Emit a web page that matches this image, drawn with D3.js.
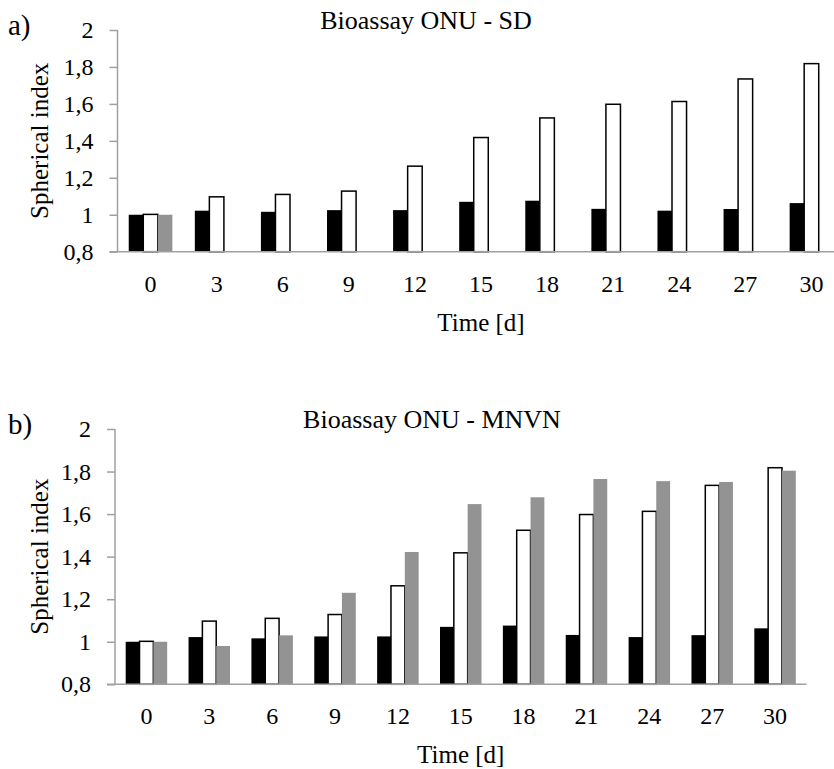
<!DOCTYPE html>
<meta charset="utf-8">
<script src="https://d3js.org/d3.v7.min.js"></script>
<style>
  body { margin: 0; background: #fff; }
  svg text { font-family: "Liberation Serif", serif !important; fill: #000; }
  .axis path, .axis line { stroke: #a0a0a0; stroke-width: 1.5px; }
  .axis text { font-size: 24px; }
</style>
<body>
<div id="my_dataviz"></div>
<script>
// data
var days = ["0", "3", "6", "9", "12", "15", "18", "21", "24", "27", "30"];
var blackVals = [1.0, 1.022, 1.016, 1.025, 1.025, 1.07, 1.076, 1.032, 1.022, 1.031, 1.063];
var whiteVals = [1.002, 1.097, 1.11, 1.128, 1.263, 1.418, 1.524, 1.598, 1.613, 1.735, 1.818];
var grayA = [1.0, 0.8, 0.8, 0.8, 0.8, 0.8, 0.8, 0.8, 0.8, 0.8, 0.8];
var grayB = [1.0, 0.98, 1.03, 1.23, 1.422, 1.647, 1.679, 1.765, 1.755, 1.751, 1.804];
var yTicks = [0.8, 1, 1.2, 1.4, 1.6, 1.8, 2];

var comma = d3.formatLocale({decimal: ",", thousands: ".", grouping: [3], currency: ["", ""]}).format(".1~f");

var svg = d3.select("#my_dataviz").append("svg")
  .attr("width", 834)
  .attr("height", 769);

function panel(p) {
  var g = svg.append("g");
  var x = d3.scaleBand().domain(days).range([p.left, p.right]).paddingInner(0.34).paddingOuter(0.17);
  var x1 = d3.scaleBand().domain([0, 1, 2]).range([0, x.bandwidth()]);
  var y = d3.scaleLinear().domain([0.8, 2]).range([p.bottom, p.top]);

  // bars
  var series = [
    {vals: blackVals, fill: "#000", stroke: "none"},
    {vals: whiteVals, fill: "#fff", stroke: "#000"},
    {vals: p.gray, fill: "#939393", stroke: "none"}
  ];
  series.forEach(function(s, k) {
    g.append("g").selectAll("rect")
      .data(s.vals)
      .enter().append("rect")
      .attr("x", (d, i) => x(days[i]) + x1(k))
      .attr("y", d => y(d))
      .attr("width", x1.bandwidth())
      .attr("height", d => y(0.8) - y(d))
      .attr("fill", s.fill)
      .attr("stroke", s.stroke)
      .attr("stroke-width", 1.5);
  });

  // axes
  g.append("g").attr("class", "axis")
    .attr("transform", "translate(" + p.left + ",0)")
    .call(d3.axisLeft(y).tickValues(yTicks).tickFormat(comma).tickSize(8).tickSizeOuter(0).tickPadding(16))
    .call(a => a.select(".domain").attr("d", "M0," + p.top + "V" + p.bottom));

  g.append("g").attr("class", "axis")
    .attr("transform", "translate(0," + p.bottom + ")")
    .call(d3.axisBottom(x).tickSize(0).tickPadding(23))
    .call(a => a.select(".domain").attr("d", "M" + (p.left - 8) + ",0H" + p.right));

  // titles and labels
  g.append("text")
    .attr("x", p.titleX).attr("y", p.top - 1)
    .attr("text-anchor", "middle")
    .style("font-size", "26px")
    .text(p.title);

  g.append("text")
    .attr("x", 8).attr("y", p.top + 5)
    .style("font-size", "29px")
    .text(p.tag);

  g.append("text")
    .attr("x", (p.left + p.right) / 2).attr("y", p.bottom + 79)
    .attr("text-anchor", "middle")
    .style("font-size", "25px")
    .text("Time [d]");

  g.append("text")
    .attr("transform", "translate(48," + (p.top + p.bottom) / 2 + ") rotate(-90)")
    .attr("text-anchor", "middle")
    .style("font-size", "25px")
    .text("Spherical index");
}

panel({left: 117.5, right: 844.5, top: 30, bottom: 251.7, gray: grayA,
       title: "Bioassay ONU - SD", titleX: 426, tag: "a)"});
panel({left: 115, right: 806.5, top: 429, bottom: 684.3, gray: grayB,
       title: "Bioassay ONU - MNVN", titleX: 432, tag: "b)"});
</script>
</body>
